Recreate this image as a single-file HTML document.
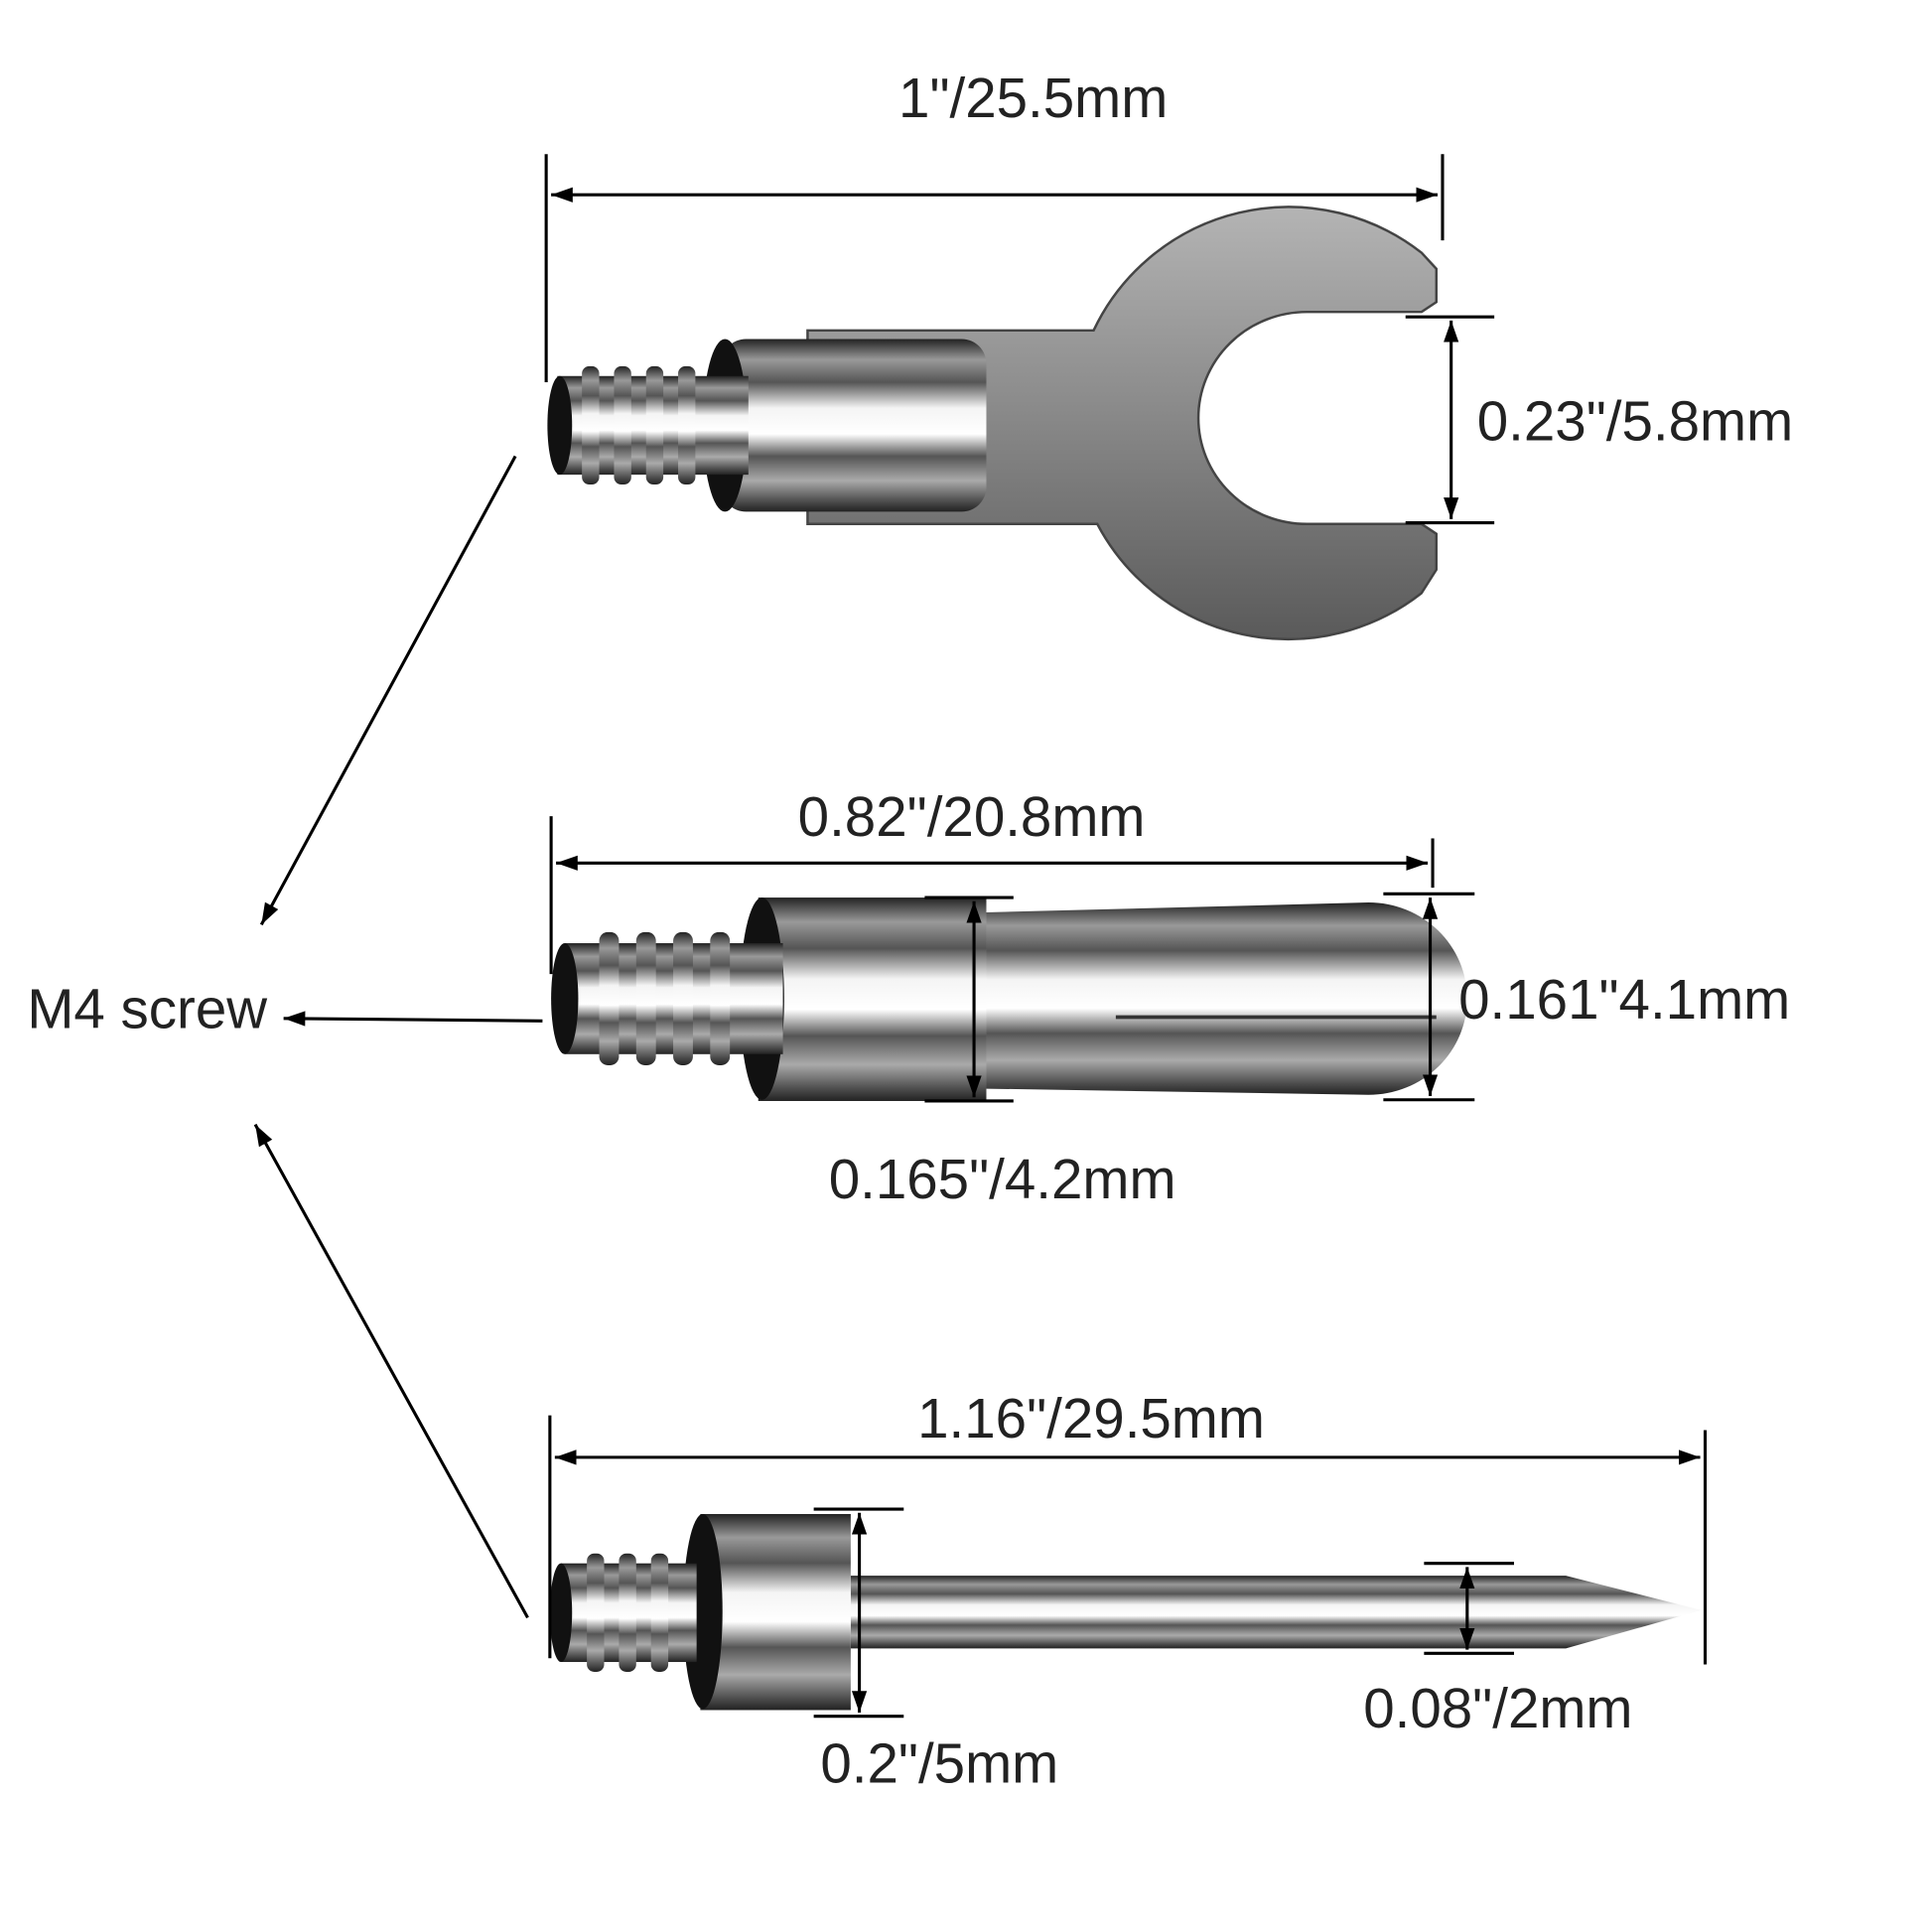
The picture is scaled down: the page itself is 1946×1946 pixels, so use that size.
<!DOCTYPE html>
<html><head><meta charset="utf-8"><style>html,body{margin:0;padding:0;background:#fff}svg{display:block}</style></head>
<body>
<svg width="1946" height="1946" viewBox="0 0 1567 1567" xmlns="http://www.w3.org/2000/svg">
<defs>
<linearGradient id="m" x1="0" y1="0" x2="0" y2="1">
<stop offset="0" stop-color="#222"/><stop offset="0.12" stop-color="#999"/><stop offset="0.25" stop-color="#555"/><stop offset="0.4" stop-color="#f4f4f4"/><stop offset="0.55" stop-color="#fff"/><stop offset="0.68" stop-color="#555"/><stop offset="0.82" stop-color="#aaa"/><stop offset="0.93" stop-color="#555"/><stop offset="1" stop-color="#222"/>
</linearGradient>
<linearGradient id="p" x1="0" y1="0" x2="0" y2="1">
<stop offset="0" stop-color="#b4b4b4"/><stop offset="1" stop-color="#5a5a5a"/>
</linearGradient>
<marker id="a" viewBox="0 0 10 10" refX="10" refY="5" markerWidth="7" markerHeight="7" orient="auto-start-reverse"><path d="M0,1.5 L10,5 L0,8.5 Z" fill="#000"/></marker>
</defs>
<g font-family="Liberation Sans, sans-serif" font-size="45.5" fill="#222">
<!-- TOP SPADE -->
<path fill="url(#p)" stroke="#444" stroke-width="2" d="M655,268 L887,268 A175,175 0 0 1 1153,205 L1165,218 L1165,245 L1153,253 L1060,253 A87,85 0 0 0 1060,425 L1153,425 L1165,433 L1165,462 L1153,481 A175,175 0 0 1 890,425 L655,425 Z"/>
<rect x="585" y="275" width="215" height="140" rx="20" fill="url(#m)"/>
<ellipse cx="588" cy="345" rx="18" ry="70" fill="#111"/>
<rect x="452" y="305" width="155" height="80" fill="url(#m)"/>
<g fill="url(#m)"><rect x="472" y="297" width="14" height="96" rx="6"/><rect x="498" y="297" width="14" height="96" rx="6"/><rect x="524" y="297" width="14" height="96" rx="6"/><rect x="550" y="297" width="14" height="96" rx="6"/></g>
<ellipse cx="454" cy="345" rx="10" ry="40" fill="#111"/>
<g stroke="#000" stroke-width="2.5" fill="none">
<line x1="443" y1="125" x2="443" y2="310"/><line x1="1170" y1="125" x2="1170" y2="195"/>
<line x1="447" y1="158" x2="1166" y2="158" marker-start="url(#a)" marker-end="url(#a)"/>
<line x1="1140" y1="257" x2="1212" y2="257"/><line x1="1140" y1="424" x2="1212" y2="424"/>
<line x1="1177" y1="260" x2="1177" y2="421" marker-start="url(#a)" marker-end="url(#a)"/>
</g>
<text x="838" y="95" text-anchor="middle">1"/25.5mm</text>
<text x="1198" y="357">0.23"/5.8mm</text>
<!-- MIDDLE -->
<path fill="url(#m)" d="M800,740 L1110,732 A80,78 0 0 1 1110,888 L800,883 Z"/>
<line x1="905" y1="825" x2="1165" y2="825" stroke="#333" stroke-width="3"/>
<rect x="615" y="728" width="185" height="165" fill="url(#m)"/>
<ellipse cx="618" cy="810" rx="18" ry="82" fill="#111"/>
<rect x="458" y="765" width="177" height="90" fill="url(#m)"/>
<g fill="url(#m)"><rect x="486" y="756" width="16" height="108" rx="7"/><rect x="516" y="756" width="16" height="108" rx="7"/><rect x="546" y="756" width="16" height="108" rx="7"/><rect x="576" y="756" width="16" height="108" rx="7"/></g>
<ellipse cx="458" cy="810" rx="11" ry="45" fill="#111"/>
<g stroke="#000" stroke-width="2.5" fill="none">
<line x1="447" y1="662" x2="447" y2="790"/><line x1="1162" y1="680" x2="1162" y2="720"/>
<line x1="451" y1="700" x2="1158" y2="700" marker-start="url(#a)" marker-end="url(#a)"/>
<line x1="750" y1="728" x2="822" y2="728"/><line x1="750" y1="893" x2="822" y2="893"/>
<line x1="790" y1="731" x2="790" y2="890" marker-start="url(#a)" marker-end="url(#a)"/>
<line x1="1122" y1="725" x2="1196" y2="725"/><line x1="1122" y1="892" x2="1196" y2="892"/>
<line x1="1160" y1="728" x2="1160" y2="889" marker-start="url(#a)" marker-end="url(#a)"/>
</g>
<text x="788" y="678" text-anchor="middle">0.82"/20.8mm</text>
<text x="1183" y="826">0.161"4.1mm</text>
<text x="813" y="972" text-anchor="middle">0.165"/4.2mm</text>
<!-- BOTTOM -->
<path fill="url(#m)" d="M690,1278 L1270,1278 L1380,1306 L1270,1337 L690,1337 Z"/>
<rect x="568" y="1228" width="122" height="159" fill="url(#m)"/>
<ellipse cx="570" cy="1307" rx="16" ry="79" fill="#111"/>
<rect x="455" y="1268" width="110" height="80" fill="url(#m)"/>
<g fill="url(#m)"><rect x="476" y="1260" width="14" height="96" rx="6"/><rect x="502" y="1260" width="14" height="96" rx="6"/><rect x="528" y="1260" width="14" height="96" rx="6"/></g>
<ellipse cx="455" cy="1308" rx="9" ry="40" fill="#111"/>
<g stroke="#000" stroke-width="2.5" fill="none">
<line x1="446" y1="1148" x2="446" y2="1345"/><line x1="1383" y1="1160" x2="1383" y2="1350"/>
<line x1="450" y1="1182" x2="1379" y2="1182" marker-start="url(#a)" marker-end="url(#a)"/>
<line x1="660" y1="1224" x2="733" y2="1224"/><line x1="660" y1="1392" x2="733" y2="1392"/>
<line x1="697" y1="1227" x2="697" y2="1389" marker-start="url(#a)" marker-end="url(#a)"/>
<line x1="1155" y1="1268" x2="1228" y2="1268"/><line x1="1155" y1="1341" x2="1228" y2="1341"/>
<line x1="1190" y1="1271" x2="1190" y2="1338" marker-start="url(#a)" marker-end="url(#a)"/>
</g>
<text x="885" y="1166" text-anchor="middle">1.16"/29.5mm</text>
<text x="762" y="1446" text-anchor="middle">0.2"/5mm</text>
<text x="1215" y="1401" text-anchor="middle">0.08"/2mm</text>
<!-- M4 -->
<g stroke="#000" stroke-width="2.5" fill="none">
<line x1="440" y1="828" x2="230" y2="826" marker-end="url(#a)"/>
<line x1="418" y1="370" x2="212" y2="750" marker-end="url(#a)"/>
<line x1="428" y1="1312" x2="207" y2="912" marker-end="url(#a)"/>
</g>
<text x="22" y="834">M4 screw</text>
</g>
</svg>
</body></html>
